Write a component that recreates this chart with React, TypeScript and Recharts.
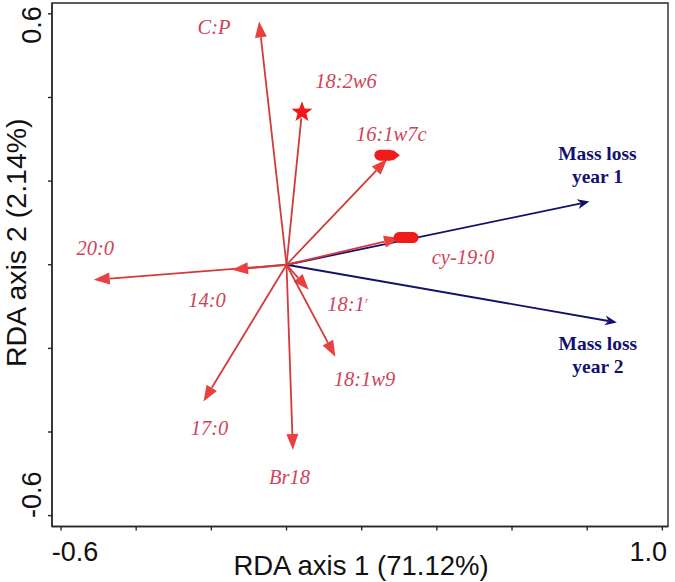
import React from 'react';
import { ComposedChart, XAxis, YAxis, ReferenceLine, ReferenceArea, Scatter } from 'recharts';

// ---- data ----
const variableNames = ['C:P', '18:2w6', '16:1w7c', 'cy-19:0', '20:0', '14:0', '18:1ʳ', '18:1w9', '17:0', 'Br18'];
const variableAxis1 = [-0.073, 0.041, 0.268, 0.302, -0.513, -0.145, 0.059, 0.13, -0.221, 0.017];
const variableAxis2 = [0.582, 0.365, 0.253, 0.064, -0.036, -0.012, -0.06, -0.22, -0.327, -0.443];

const responseNames = [['Mass loss', 'year 1'], ['Mass loss', 'year 2']];
const responseAxis1 = [0.806, 0.879];
const responseAxis2 = [0.151, -0.138];

const highlightNames = ['16:1w7c', 'cy-19:0'];
const highlightAxis1 = [0.267, 0.318];
const highlightAxis2 = [0.262, 0.065];

const xTicks = [-0.6, -0.4, -0.2, 0, 0.2, 0.4, 0.6, 0.8, 1.0];
const xTickLabels = ['-0.6', '', '', '', '', '', '', '', '1.0'];
const yTicks = [-0.6, -0.4, -0.2, 0, 0.2, 0.4, 0.6];
const yTickLabels = ['-0.6', '', '', '', '', '', '0.6'];

const xTitle = 'RDA axis 1 (71.12%)';
const yTitle = 'RDA axis 2 (2.14%)';

// ---- styling / layout (not data) ----
const RED_LINE = '#d23a3c';
const RED_HEAD = '#e8413f';
const RED_TEXT = '#cf4459';
const NAVY = '#12126e';
const AXIS = '#262626';
const SANS = '"Liberation Sans", Arial, sans-serif';
const SERIF = '"Liberation Serif", "Times New Roman", serif';

const headKind: Record<string, string> = { '18:2w6': 'star' };
const labelOffset: Record<string, [number, number, string]> = {
  'C:P': [-45, 13, 'middle'],
  '18:2w6': [44, -24.5, 'middle'],
  '16:1w7c': [4, -17.5, 'middle'],
  'cy-19:0': [63, 26, 'middle'],
  '20:0': [1.5, -25, 'middle'],
  '14:0': [-25, 37, 'middle'],
  '18:1ʳ': [18.5, 21.5, 'start'],
  '18:1w9': [29, 29.5, 'middle'],
  '17:0': [6, 33.5, 'middle'],
  'Br18': [-3.5, 34, 'middle'],
};
const responseLabelOffset: [number, number][] = [[8, -41.5], [-19, 28]];

const starPath = (cx: number, cy: number, R: number, r: number) => {
  const pts: string[] = [];
  for (let i = 0; i < 10; i++) {
    const rad = i % 2 === 0 ? R : r;
    const a = -Math.PI / 2 + (i * Math.PI) / 5;
    pts.push(`${cx + rad * Math.cos(a)},${cy + rad * Math.sin(a)}`);
  }
  return `M${pts.join('L')}Z`;
};

const VariableArrow = (p: any) => {
  const { x1, y1, x2, y2, name } = p;
  if ([x1, y1, x2, y2].some((v) => typeof v !== 'number' || isNaN(v))) return <g />;
  const dx = x2 - x1;
  const dy = y2 - y1;
  const L = Math.hypot(dx, dy) || 1;
  const ux = dx / L;
  const uy = dy / L;
  const px = -uy;
  const py = ux;
  const kind = headKind[name] || 'arrow';
  const [lx, ly, anchor] = labelOffset[name] || [0, 0, 'middle'];
  const headLen = 16;
  const headHalf = 6;
  let head: React.ReactNode;
  let ex = x2;
  let ey = y2;
  if (kind === 'star') {
    ex = x2 - ux * 6;
    ey = y2 - uy * 6;
    head = <path d={starPath(x2, y2, 11, 4.6)} fill="#f01818" />;
  } else {
    const bx = x2 - ux * headLen;
    const by = y2 - uy * headLen;
    ex = bx;
    ey = by;
    head = (
      <path
        d={`M${x2},${y2}L${bx + px * headHalf},${by + py * headHalf}L${bx - px * headHalf},${by - py * headHalf}Z`}
        fill={RED_HEAD}
      />
    );
  }
  const isR = name === '18:1ʳ';
  return (
    <g>
      <line x1={x1} y1={y1} x2={ex} y2={ey} stroke={RED_LINE} strokeWidth={1.8} />
      {head}
      <text
        x={x2 + lx}
        y={y2 + ly}
        textAnchor={anchor}
        fontFamily={SERIF}
        fontStyle="italic"
        fontSize={20.5}
        fill={RED_TEXT}
      >
        {isR ? (
          <>
            18:1<tspan fontSize={13} dy={-5}>ʳ</tspan>
          </>
        ) : (
          name
        )}
      </text>
    </g>
  );
};

const ResponseArrow = (p: any) => {
  const { x1, y1, x2, y2, idx } = p;
  if ([x1, y1, x2, y2].some((v) => typeof v !== 'number' || isNaN(v))) return <g />;
  const dx = x2 - x1;
  const dy = y2 - y1;
  const L = Math.hypot(dx, dy) || 1;
  const ux = dx / L;
  const uy = dy / L;
  const px = -uy;
  const py = ux;
  const hl = 12;
  const hw = 5;
  const notch = 8.5;
  const bx = x2 - ux * hl;
  const by = y2 - uy * hl;
  const nx = x2 - ux * notch;
  const ny = y2 - uy * notch;
  const [ox, oy] = responseLabelOffset[idx];
  const [l1, l2] = responseNames[idx];
  return (
    <g>
      <line x1={x1} y1={y1} x2={nx} y2={ny} stroke={NAVY} strokeWidth={1.8} />
      <path
        d={`M${x2},${y2}L${bx + px * hw},${by + py * hw}L${nx},${ny}L${bx - px * hw},${by - py * hw}Z`}
        fill={NAVY}
      />
      <text textAnchor="middle" fontFamily={SERIF} fontWeight="bold" fontSize={19.5} fill={NAVY}>
        <tspan x={x2 + ox} y={y2 + oy}>{l1}</tspan>
        <tspan x={x2 + ox} y={y2 + oy + 23}>{l2}</tspan>
      </text>
    </g>
  );
};

const Blob = (p: any) => {
  const { cx, cy, payload } = p;
  if (typeof cx !== 'number' || typeof cy !== 'number') return <g />;
  const pointed = payload && payload.name === '16:1w7c';
  return (
    <g>
      <rect x={cx - 12.5} y={cy - 5.5} width={pointed ? 21 : 25} height={11} rx={5.5} fill="#f01c1c" />
      {pointed && <path d={`M${cx + 6},${cy - 5.5}L${cx + 13},${cy}L${cx + 6},${cy + 5.5}Z`} fill="#f01c1c" />}
    </g>
  );
};

const XTick = (p: any) => {
  const { x, y, index } = p;
  const label = xTickLabels[index];
  if (!label) return <g />;
  const shift = index === 0 ? 14 : -14;
  return (
    <text x={x + shift} y={y + 28} textAnchor="middle" fontFamily={SANS} fontSize={27} fill="#111">
      {label}
    </text>
  );
};

const YTick = (p: any) => {
  const { x, y, index } = p;
  const label = yTickLabels[index];
  if (!label) return <g />;
  const shift = index === 0 ? -21 : 11;
  const bx = x - 5;
  const cy = y + shift;
  return (
    <text
      x={bx}
      y={cy}
      transform={`rotate(-90, ${bx}, ${cy})`}
      textAnchor="middle"
      fontFamily={SANS}
      fontSize={27}
      fill="#111"
    >
      {label}
    </text>
  );
};

const XTitle = (p: any) => {
  const vb = p.viewBox || {};
  const cx = (vb.x || 0) + (vb.width || 0) / 2;
  const by = (vb.y || 0) + 48;
  return (
    <text x={cx + 1} y={by} textAnchor="middle" fontFamily={SANS} fontSize={27.5} fill="#111">
      {xTitle}
    </text>
  );
};

const YTitle = (p: any) => {
  const vb = p.viewBox || {};
  const bx = (vb.x || 0) + 25.5;
  const cy = (vb.y || 0) + (vb.height || 0) / 2 - 22;
  return (
    <text
      x={bx}
      y={cy}
      transform={`rotate(-90, ${bx}, ${cy})`}
      textAnchor="middle"
      fontFamily={SANS}
      fontSize={28.5}
      fill="#111"
    >
      {yTitle}
    </text>
  );
};

export default function App() {
  const highlightData = highlightNames.map((name, i) => ({ name, x: highlightAxis1[i], y: highlightAxis2[i] }));
  return (
    <div style={{ position: 'absolute', left: 0, top: 0, background: '#fff' }}>
      <ComposedChart width={675} height={582} margin={{ top: 3, right: 7, bottom: 0, left: 0 }}>
        <XAxis
          type="number"
          dataKey="x"
          domain={[-0.624, 1.015]}
          ticks={xTicks}
          interval={0}
          height={55.5}
          tickSize={4}
          allowDataOverflow
          axisLine={{ stroke: AXIS, strokeWidth: 1.4 }}
          tickLine={{ stroke: AXIS, strokeWidth: 1.4 }}
          tick={<XTick />}
          label={<XTitle />}
        />
        <YAxis
          type="number"
          dataKey="y"
          domain={[-0.626, 0.626]}
          ticks={yTicks}
          interval={0}
          width={52}
          tickSize={4}
          allowDataOverflow
          axisLine={{ stroke: AXIS, strokeWidth: 1.4 }}
          tickLine={{ stroke: AXIS, strokeWidth: 1.4 }}
          tick={<YTick />}
          label={<YTitle />}
        />
        <ReferenceArea
          x1={-0.624}
          x2={1.015}
          y1={-0.626}
          y2={0.626}
          fill="none"
          fillOpacity={0}
          stroke={AXIS}
          strokeWidth={1.4}
          ifOverflow="visible"
        />
        {responseNames.map((n, i) => (
          <ReferenceLine
            key={'r' + i}
            segment={[{ x: 0, y: 0 }, { x: responseAxis1[i], y: responseAxis2[i] }]}
            ifOverflow="visible"
            shape={(sp: any) => <ResponseArrow {...sp} idx={i} />}
          />
        ))}
        {variableNames.map((name, i) => (
          <ReferenceLine
            key={'v' + i}
            segment={[{ x: 0, y: 0 }, { x: variableAxis1[i], y: variableAxis2[i] }]}
            ifOverflow="visible"
            shape={(sp: any) => <VariableArrow {...sp} name={name} />}
          />
        ))}
        <Scatter data={highlightData} dataKey="y" shape={<Blob />} isAnimationActive={false} />
      </ComposedChart>
    </div>
  );
}
